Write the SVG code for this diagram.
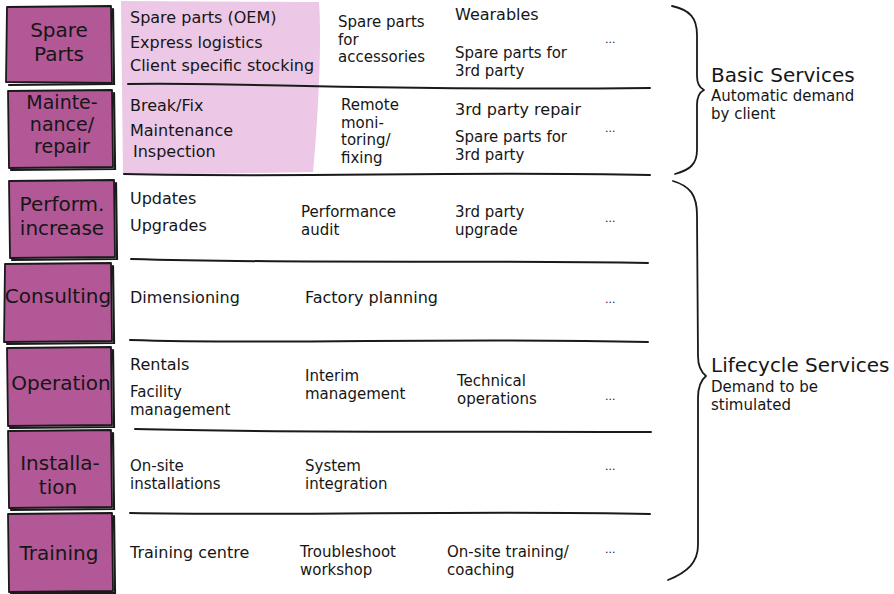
<svg xmlns="http://www.w3.org/2000/svg" width="894" height="594" viewBox="0 0 894 594">
<style>
  .bg{fill:#ffffff}
  .box{fill:#b25896;stroke:#1a1a1a;stroke-width:1.8;stroke-linejoin:round}
  .shadow{fill:none;stroke:#1a1a1a;stroke-width:2.2;stroke-linecap:round}
  .pink{fill:#ecc8e6}
  .sep{fill:none;stroke:#1a1a1a;stroke-width:2;stroke-linecap:round}
  .brace{fill:none;stroke:#1a1a1a;stroke-width:1.8;stroke-linecap:round;stroke-linejoin:round}
  text{font-family:"DejaVu Sans","Liberation Sans",sans-serif;fill:#161616}
  .lbl{font-size:20px;text-anchor:middle}
  .lbl3{font-size:19px;text-anchor:middle}
  .t{font-size:16px}
  .m{font-size:15px}
  .dots{font-size:11px}
  .h{font-size:20px}
  .s{font-size:15px}
</style>
<rect class="bg" x="0" y="0" width="894" height="594"/>
<path class="pink" d="M121,1 L319,2 C322,40 318,120 313,172 L123,175 Z"/>

<g id="separators">
  <path class="sep" d="M128,84 C250,82 350,91 650,88"/>
  <path class="sep" d="M124,174 C300,178 450,171 650,175"/>
  <path class="sep" d="M131,259 C300,264 480,260 648,263"/>
  <path class="sep" d="M130,340 C280,345 450,337 648,342"/>
  <path class="sep" d="M135,429 C280,433 450,431 651,432"/>
  <path class="sep" d="M130,513 C300,516 480,510 650,514"/>
</g>

<g id="spare-parts">
  <path class="box" d="M7,7 L111,6 L112,83 L6,82 Z"/>
  <path class="shadow" d="M113,9 L114,84 L9,85"/>
  <text class="lbl" x="59" y="37">Spare<tspan x="59" dy="23.5">Parts</tspan></text>
</g>
<g id="maintenance">
  <path class="box" d="M8,91 L112,90 L113,167 L9,168 Z"/>
  <path class="shadow" d="M114,93 L115,169 L11,170"/>
  <text class="lbl3" x="62" y="109">Mainte-<tspan x="62" dy="22.2">nance/</tspan><tspan x="62" dy="22.2">repair</tspan></text>
</g>
<g id="performance">
  <path class="box" d="M9,181 L114,180 L115,257 L10,258 Z"/>
  <path class="shadow" d="M116,183 L117,259 L12,260"/>
  <text class="lbl" x="62" y="211">Perform.<tspan x="62" dy="24">increase</tspan></text>
</g>
<g id="consulting">
  <path class="box" d="M5,264 L111,263 L112,341 L4,342 Z"/>
  <path class="shadow" d="M113,266 L114,343 L7,344"/>
  <text class="lbl" x="58" y="303">Consulting</text>
</g>
<g id="operation">
  <path class="box" d="M7,348 L111,347 L112,425 L8,426 Z"/>
  <path class="shadow" d="M113,350 L114,427 L10,428"/>
  <text class="lbl" x="61" y="390">Operation</text>
</g>
<g id="installation">
  <path class="box" d="M8,431 L111,430 L112,507 L9,508 Z"/>
  <path class="shadow" d="M113,433 L114,509 L11,510"/>
  <text class="lbl" x="60" y="470">Installa-<tspan x="58" dy="23.5">tion</tspan></text>
</g>
<g id="training">
  <path class="box" d="M8,514 L112,513 L113,591 L9,592 Z"/>
  <path class="shadow" d="M114,516 L115,593 L11,593"/>
  <text class="lbl" x="59" y="560">Training</text>
</g>

<g id="row-spare-parts">
  <text class="t" x="130" y="23">Spare parts (OEM)</text>
  <text class="t" x="130" y="48">Express logistics</text>
  <text class="t" x="130" y="71">Client specific stocking</text>
  <text class="m" x="338" y="27">Spare parts<tspan x="338" dy="17.5">for</tspan><tspan x="338" dy="17.5">accessories</tspan></text>
  <text class="t" x="455" y="20">Wearables</text>
  <text class="m" x="455" y="58">Spare parts for<tspan x="455" dy="17.5">3rd party</tspan></text>
  <text class="dots" x="605" y="43">...</text>
</g>
<g id="row-maintenance">
  <text class="t" x="130" y="111">Break/Fix</text>
  <text class="t" x="130" y="136">Maintenance</text>
  <text class="t" x="133" y="157">Inspection</text>
  <text class="m" x="341" y="110">Remote<tspan x="341" dy="17.5">moni-</tspan><tspan x="341" dy="17.5">toring/</tspan><tspan x="341" dy="17.5">fixing</tspan></text>
  <text class="t" x="455" y="115">3rd party repair</text>
  <text class="m" x="455" y="142">Spare parts for<tspan x="455" dy="17.5">3rd party</tspan></text>
  <text class="dots" x="605" y="132">...</text>
</g>
<g id="row-performance">
  <text class="t" x="130" y="204">Updates</text>
  <text class="t" x="130" y="231">Upgrades</text>
  <text class="m" x="301" y="217">Performance<tspan x="301" dy="17.5">audit</tspan></text>
  <text class="m" x="455" y="217">3rd party<tspan x="455" dy="17.5">upgrade</tspan></text>
  <text class="dots" x="605" y="222">...</text>
</g>
<g id="row-consulting">
  <text class="t" x="130" y="303">Dimensioning</text>
  <text class="t" x="305" y="303">Factory planning</text>
  <text class="dots" x="605" y="303">...</text>
</g>
<g id="row-operation">
  <text class="t" x="130" y="370">Rentals</text>
  <text class="m" x="130" y="397">Facility<tspan x="130" dy="17.5">management</tspan></text>
  <text class="m" x="305" y="381">Interim<tspan x="305" dy="17.5">management</tspan></text>
  <text class="m" x="457" y="386">Technical<tspan x="457" dy="17.5">operations</tspan></text>
  <text class="dots" x="605" y="400">...</text>
</g>
<g id="row-installation">
  <text class="m" x="130" y="471">On-site<tspan x="130" dy="17.5">installations</tspan></text>
  <text class="m" x="305" y="471">System<tspan x="305" dy="17.5">integration</tspan></text>
  <text class="dots" x="605" y="470">...</text>
</g>
<g id="row-training">
  <text class="t" x="130" y="558">Training centre</text>
  <text class="m" x="300" y="557">Troubleshoot<tspan x="300" dy="17.5">workshop</tspan></text>
  <text class="m" x="447" y="557">On-site training/<tspan x="447" dy="17.5">coaching</tspan></text>
  <text class="dots" x="605" y="553">...</text>
</g>

<g id="basic-services">
  <path class="brace" d="M672,6 C690,10 697,18 697,35 L697,76 C697,84 700,88 704,90 C700,92 697,96 697,105 L697,150 C697,164 690,170 675,174"/>
  <text class="h" x="711" y="82">Basic Services</text>
  <text class="s" x="711" y="101">Automatic demand<tspan x="711" dy="17.5">by client</tspan></text>
</g>
<g id="lifecycle-services">
  <path class="brace" d="M673,181 C690,186 697,195 697,215 L698,356 C698,366 701,372 706,376 C701,380 698,386 698,398 L698,545 C698,562 688,572 668,580"/>
  <text class="h" x="711" y="372">Lifecycle Services</text>
  <text class="s" x="711" y="392">Demand to be<tspan x="711" dy="17.5">stimulated</tspan></text>
</g>
</svg>
